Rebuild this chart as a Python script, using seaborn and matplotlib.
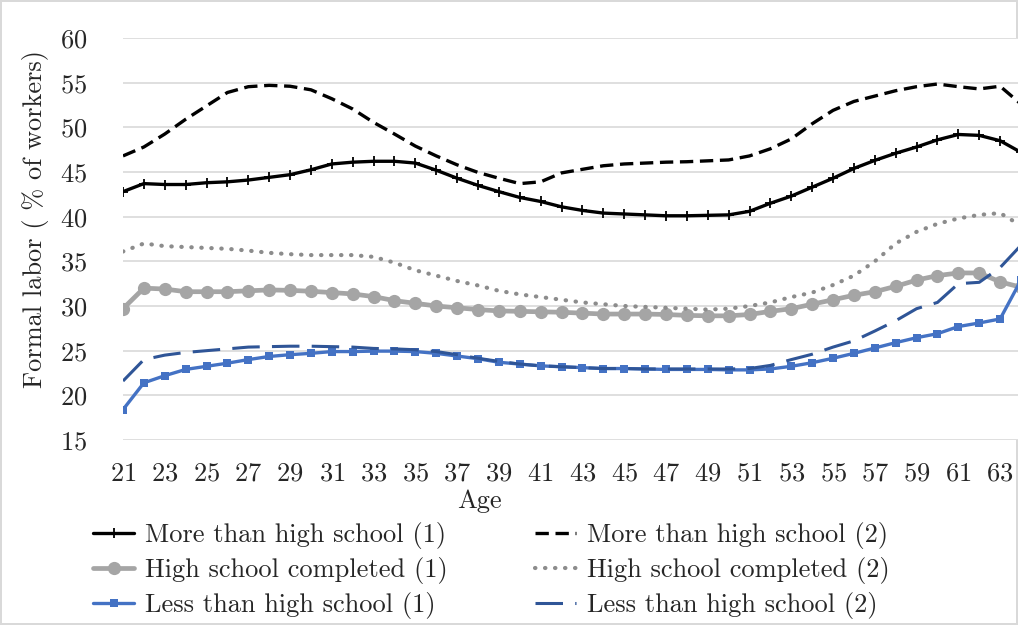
import numpy as np
import pandas as pd
import seaborn as sns
import matplotlib.pyplot as plt

ages = list(range(21, 65))

more_hs_1 = [42.8, 43.7, 43.6, 43.6, 43.8, 43.9, 44.1, 44.4, 44.7, 45.25,
             45.9, 46.1, 46.2, 46.2, 46.0, 45.2, 44.3, 43.5, 42.8, 42.15,
             41.7, 41.1, 40.7, 40.4, 40.3, 40.2, 40.1, 40.1, 40.15, 40.2,
             40.6, 41.5, 42.3, 43.3, 44.3, 45.4, 46.3, 47.1, 47.8, 48.6,
             49.2, 49.1, 48.5, 47.2]
more_hs_2 = [46.8, 47.8, 49.25, 50.9, 52.4, 53.9, 54.55, 54.7, 54.6, 54.2,
             53.2, 52.05, 50.55, 49.25, 47.9, 46.8, 45.8, 44.95, 44.3, 43.7,
             43.9, 44.9, 45.3, 45.7, 45.9, 46.0, 46.1, 46.15, 46.25, 46.35,
             46.8, 47.6, 48.7, 50.4, 51.9, 52.9, 53.5, 54.1, 54.55, 54.85,
             54.55, 54.3, 54.6, 52.6]
hs_comp_1 = [29.7, 32.0, 31.9, 31.6, 31.6, 31.6, 31.7, 31.8, 31.75, 31.65,
             31.5, 31.35, 31.05, 30.6, 30.3, 30.0, 29.8, 29.6, 29.45, 29.4,
             29.35, 29.3, 29.2, 29.1, 29.1, 29.1, 29.05, 28.95, 28.9, 28.9,
             29.05, 29.4, 29.7, 30.2, 30.7, 31.2, 31.6, 32.2, 32.9, 33.4,
             33.7, 33.7, 32.7, 32.1]
hs_comp_2 = [36.1, 37.0, 36.7, 36.6, 36.5, 36.4, 36.2, 35.95, 35.8, 35.7,
             35.7, 35.7, 35.5, 34.85, 34.0, 33.4, 32.8, 32.3, 31.7, 31.3,
             31.0, 30.7, 30.4, 30.2, 30.0, 29.9, 29.8, 29.7, 29.6, 29.7,
             30.0, 30.4, 31.0, 31.5, 32.35, 33.4, 35.0, 37.0, 38.3, 39.2,
             39.8, 40.2, 40.4, 39.0]
less_hs_1 = [18.4, 21.4, 22.2, 22.9, 23.25, 23.6, 24.0, 24.35, 24.55, 24.7,
             24.9, 24.9, 24.95, 24.95, 24.9, 24.7, 24.4, 24.1, 23.7, 23.5,
             23.3, 23.2, 23.1, 23.0, 23.0, 22.95, 22.9, 22.9, 22.9, 22.85,
             22.85, 22.95, 23.25, 23.65, 24.15, 24.7, 25.3, 25.9, 26.45, 26.9,
             27.7, 28.1, 28.55, 32.9]
less_hs_2 = [21.6, 24.0, 24.5, 24.8, 25.0, 25.2, 25.4, 25.45, 25.5, 25.5,
             25.45, 25.4, 25.25, 25.2, 25.1, 24.9, 24.55, 24.15, 23.8, 23.5,
             23.3, 23.2, 23.1, 23.0, 23.0, 22.95, 22.95, 22.95, 22.95, 22.95,
             23.0, 23.35, 24.0, 24.6, 25.4, 26.1, 27.2, 28.35, 29.7, 30.4,
             32.5, 32.65, 34.3, 36.8]

sns.set_style("white")
plt.rcParams["font.family"] = ["cmr10", "DejaVu Serif"]
plt.rcParams["axes.formatter.use_mathtext"] = True
FS = 19

fig = plt.figure(figsize=(10.18, 6.25), dpi=100)
fig.patch.set_edgecolor("#d9d9d9")
fig.patch.set_linewidth(1.5)
ax = fig.add_axes([123 / 1018, 1 - 440 / 625, 898 / 1018, 402 / 625])

dotted = (0, (0.1, 2.3))
# (label, values, color, linestyle, linewidth, marker, markersize)
series = [
    ("More than high school (1)", more_hs_1, "black", "-", 2.4, "+", 7),
    ("High school completed (1)", hs_comp_1, "#a5a5a5", "-", 3.4, "o", 9.5),
    ("Less than high school (1)", less_hs_1, "#4472c4", "-", 2.4, "s", 5.5),
    ("More than high school (2)", more_hs_2, "black", (0, (4, 2)), 2.4, None, 0),
    ("High school completed (2)", hs_comp_2, "#8c8c8c", dotted, 3.0, None, 0),
    ("Less than high school (2)", less_hs_2, "#2f5597", (0, (9, 4)), 2.2, None, 0),
]

for label, vals, color, ls, lw, mk, ms in series:
    df = pd.DataFrame({"Age": ages, "val": vals})
    sns.lineplot(data=df, x="Age", y="val", ax=ax, color=color, linewidth=lw,
                 marker=mk, markersize=ms, markeredgecolor=color,
                 markeredgewidth=1.3 if mk == "+" else 0, label=label)
    ax.lines[-1].set_linestyle(ls)
    if ls == dotted:
        ax.lines[-1].set_dash_capstyle("round")

ax.set_xlim(21, 64)
ax.set_ylim(15, 60)
ax.set_yticks(np.arange(15, 61, 5))
ax.set_xticks(ages[::2])
ax.yaxis.grid(True, color="#d9d9d9", linewidth=1.2)
ax.xaxis.grid(False)
for s in ax.spines.values():
    s.set_visible(False)
ax.tick_params(axis="y", length=0, pad=26, labelsize=FS)
ax.tick_params(axis="x", length=0, pad=16, labelsize=FS)
ax.set_xlabel("Age", fontsize=FS)
ax.set_ylabel("Formal labor ( % of workers)", fontsize=FS)
ax.xaxis.set_label_coords(0.397, -0.122)
ax.yaxis.set_label_coords(-0.082, 0.55)

handles, labels = ax.get_legend_handles_labels()
ax.legend(handles, labels, ncol=2, loc="upper left", bbox_to_anchor=(-0.045, -0.178),
          frameon=False, fontsize=FS, handlelength=1.55, handletextpad=0.42,
          columnspacing=3.3, labelspacing=0.3, borderaxespad=0)

fig.savefig("out.png", dpi=100)
